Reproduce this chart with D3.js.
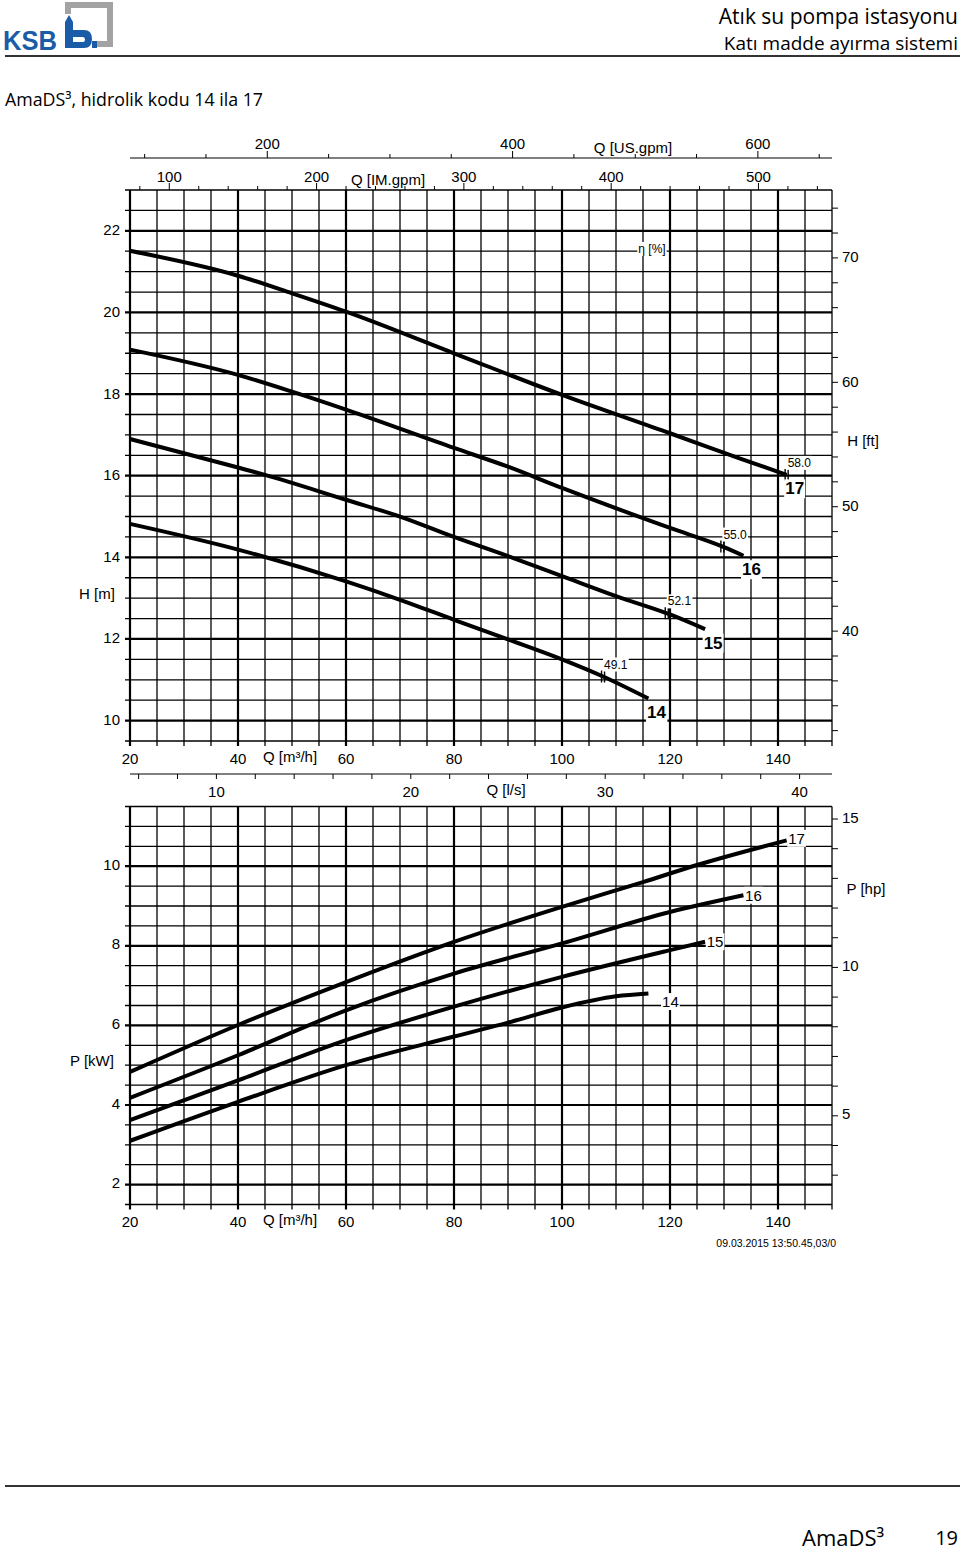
<!DOCTYPE html>
<html>
<head>
<meta charset="utf-8">
<script src="https://cdn.jsdelivr.net/npm/d3@7"></script>
<style>
  body { margin: 0; background: #fff; }
  svg text { font-family: "Liberation Sans", Arial, sans-serif; fill: #000; }
  .hdr { font-family: "Open Sans", "Noto Sans", sans-serif !important; }
</style>
</head>
<body>
<div id="viz-body"></div>
<script>
// ---------- data (Q in m3/h) ----------
const curveNames = ["14", "15", "16", "17"];

// head H [m]
const head14 = [[20, 14.82], [40, 14.19], [60, 13.41], [70, 12.96], [80, 12.47], [90, 11.99], [100, 11.5], [107.6, 11.08], [116, 10.54]];
const head15 = [[20, 16.9], [40, 16.2], [45, 16.02], [60, 15.41], [70, 15.0], [80, 14.5], [90, 14.03], [100, 13.54], [110, 13.05], [120, 12.6], [126.5, 12.24]];
const head16 = [[20, 19.09], [40, 18.47], [50, 18.06], [60, 17.62], [80, 16.68], [90, 16.22], [100, 15.7], [120, 14.72], [130, 14.25], [133.6, 14.04]];
const head17 = [[20, 21.51], [40, 20.9], [50, 20.47], [60, 20.02], [80, 19.0], [100, 17.98], [120, 17.04], [133, 16.42], [141.6, 16.02]];

// power P [kW]
const power14 = [[20, 3.1], [40, 4.08], [60, 5.0], [80, 5.72], [90, 6.07], [100, 6.45], [110, 6.73], [116, 6.8]];
const power15 = [[20, 3.62], [40, 4.62], [60, 5.63], [80, 6.47], [100, 7.22], [120, 7.89], [126.5, 8.1]];
const power16 = [[20, 4.18], [40, 5.25], [60, 6.38], [80, 7.3], [100, 8.06], [120, 8.85], [133.6, 9.27]];
const power17 = [[20, 4.83], [40, 6.01], [60, 7.09], [80, 8.1], [100, 8.98], [115, 9.6], [125, 10.03], [141.6, 10.65]];

// efficiency points on the head curves
const etaQ = [107.6, 119.4, 129.7, 141.6];
const etaText = ["49.1", "52.1", "55.0", "58.0"];

// tick labels
const qLabels = [20, 40, 60, 80, 100, 120, 140];
const hLabels = [10, 12, 14, 16, 18, 20, 22];
const pLabels = [2, 4, 6, 8, 10];
const ftLabels = [40, 50, 60, 70];
const hpLabels = [5, 10, 15];
const usLabels = [200, 400, 600];
const imLabels = [100, 200, 300, 400, 500];
const lsLabels = [10, 20, 30, 40];

// ---------- setup ----------
const width = 960, height = 1551;
const heads = [head14, head15, head16, head17];
const powers = [power14, power15, power16, power17];

const svg = d3.select("#viz-body").append("svg")
    .attr("width", width).attr("height", height)
    .attr("viewBox", [0, 0, width, height]);

// Set the ranges
const x = d3.scaleLinear().domain([20, 150]).range([130, 832]);
const yH = d3.scaleLinear().domain([9.5, 23]).range([741, 190]);
const yP = d3.scaleLinear().domain([1.5, 11.5]).range([1204.5, 806.5]);

// secondary units, same pixels
const M3H_US = 4.40287, M3H_IM = 3.66615, M_FT = 3.28084, KW_HP = 1.34102;
const xUS = d3.scaleLinear().domain([20 * M3H_US, 150 * M3H_US]).range(x.range());
const xIM = d3.scaleLinear().domain([20 * M3H_IM, 150 * M3H_IM]).range(x.range());
const xLS = d3.scaleLinear().domain([20 / 3.6, 150 / 3.6]).range(x.range());
const yFt = d3.scaleLinear().domain([9.5 * M_FT, 23 * M_FT]).range(yH.range());
const yHp = d3.scaleLinear().domain([1.5 * KW_HP, 11.5 * KW_HP]).range(yP.range());

// ---------- header / footer ----------
svg.append("text").attr("x", 3).attr("y", 50)
    .attr("textLength", 54).attr("lengthAdjust", "spacingAndGlyphs")
    .style("font-size", "28px").style("font-weight", "bold").style("fill", "#1a5ca8")
    .text("KSB");
// logo
svg.append("path")
    .attr("d", "M68,14 L68,5 L110,5 L110,44 L97,44")
    .attr("fill", "none").attr("stroke", "#a3a3a3").attr("stroke-width", 6);
svg.append("path")
    .attr("d", "M65,48 L65,22 L69,15 L73,22 L73,30 L84,30 Q92,30 92,39 Q92,48 84,48 Z M73,37 L73,42 L83,42 Q85,42 85,39.5 Q85,37 83,37 Z")
    .attr("fill", "#1a5ca8").attr("fill-rule", "evenodd");
svg.append("rect").attr("x", 92).attr("y", 41).attr("width", 5).attr("height", 7).attr("fill", "#1a5ca8");

svg.append("text").attr("class", "hdr").attr("x", 958).attr("y", 24).attr("text-anchor", "end")
    .style("font-size", "21px").text("Atık su pompa istasyonu");
svg.append("text").attr("class", "hdr").attr("x", 958).attr("y", 50).attr("text-anchor", "end")
    .style("font-size", "19px").text("Katı madde ayırma sistemi");
svg.append("line").attr("x1", 5).attr("x2", 960).attr("y1", 56).attr("y2", 56)
    .attr("stroke", "#333").attr("stroke-width", 2);
svg.append("text").attr("class", "hdr").attr("x", 5).attr("y", 106)
    .style("font-size", "17.8px").text("AmaDS³, hidrolik kodu 14 ila 17");

svg.append("line").attr("x1", 5).attr("x2", 960).attr("y1", 1486).attr("y2", 1486)
    .attr("stroke", "#333").attr("stroke-width", 2);
svg.append("text").attr("class", "hdr").attr("x", 802).attr("y", 1546)
    .style("font-size", "22px").text("AmaDS³");
svg.append("text").attr("class", "hdr").attr("x", 958).attr("y", 1545).attr("text-anchor", "end")
    .style("font-size", "20px").text("19");

// ---------- helpers ----------
function label(g, px, py, txt, opts = {}) {
    const t = g.append("text").attr("x", px).attr("y", py)
        .attr("text-anchor", opts.anchor || "middle")
        .attr("dominant-baseline", "central")
        .style("font-size", (opts.size || 15) + "px")
        .style("font-weight", opts.bold ? "bold" : "normal")
        .text(txt);
    if (opts.bg) {
        const b = t.node().getBBox();
        g.insert("rect", () => t.node())
            .attr("x", b.x - 1).attr("y", b.y).attr("width", b.width + 2).attr("height", b.height)
            .attr("fill", "#fff");
    }
    return t;
}

function drawGrid(yScale, step) {
    const g = svg.append("g");
    const [yb, yt] = yScale.range();
    const [v0, v1] = yScale.domain();
    const qGrid = d3.range(20, 150.01, 5);
    const vGrid = d3.range(v0, v1 + 0.01, 0.5);
    g.selectAll(".h").data(vGrid).join("line")
        .attr("x1", 125).attr("x2", x(150))
        .attr("y1", d => yScale(d)).attr("y2", d => yScale(d))
        .attr("stroke", "#000")
        .attr("stroke-width", d => (d % step === 0) ? 2.2 : 1.3);
    g.selectAll(".v").data(qGrid).join("line")
        .attr("x1", d => x(d)).attr("x2", d => x(d))
        .attr("y1", yt).attr("y2", yb + 5)
        .attr("stroke", "#000")
        .attr("stroke-width", d => (d % 20 === 0) ? 2.2 : 1.3);
    return g;
}

const line = d3.line().curve(d3.curveMonotoneX);

// ---------- H chart ----------
const gH = drawGrid(yH, 2);

// top: US gpm axis
const gTop = svg.append("g");
gTop.append("line").attr("x1", x(20)).attr("x2", x(150)).attr("y1", 158).attr("y2", 158)
    .attr("stroke", "#000").attr("stroke-width", 1.2);
gTop.selectAll(".us").data(d3.range(100, 651, 50)).join("line")
    .attr("x1", d => xUS(d)).attr("x2", d => xUS(d))
    .attr("y1", 158).attr("y2", d => d % 200 === 0 ? 151 : 154)
    .attr("stroke", "#000").attr("stroke-width", 1);
usLabels.forEach(v => label(gTop, xUS(v), 143, v));
label(gTop, 633, 147, "Q [US.gpm]");
// IM gpm axis on top border
gTop.selectAll(".im").data(d3.range(80, 541, 20)).join("line")
    .attr("x1", d => xIM(d)).attr("x2", d => xIM(d))
    .attr("y1", 190).attr("y2", d => d % 100 === 0 ? 183 : 186)
    .attr("stroke", "#000").attr("stroke-width", 1);
imLabels.forEach(v => label(gTop, xIM(v), 176, v));
label(gTop, 388, 179, "Q [IM.gpm]");

// left / right / bottom labels
hLabels.forEach(v => label(gH, 120, yH(v) - 1, v, { anchor: "end" }));
label(gH, 97, 593, "H [m]");
gH.selectAll(".ft").data(d3.range(32, 75, 2)).join("line")
    .attr("x1", x(150)).attr("x2", x(150) + 6)
    .attr("y1", d => yFt(d)).attr("y2", d => yFt(d))
    .attr("stroke", "#000").attr("stroke-width", 1);
ftLabels.forEach(v => label(gH, 842, yFt(v) - 1, v, { anchor: "start" }));
label(gH, 863, 440, "H [ft]");
qLabels.forEach(v => label(gH, x(v), 758, v));
label(gH, 290, 756, "Q [m³/h]");
label(gH, 652, 249, "η [%]", { size: 12, bg: true });

// head curves
heads.forEach(d => {
    gH.append("path").attr("d", line(d.map(p => [x(p[0]), yH(p[1])])))
        .attr("fill", "none").attr("stroke", "#000").attr("stroke-width", 4);
});
// efficiency marks
etaQ.forEach((q, i) => {
    const c = heads[i];
    const interp = d3.scaleLinear().domain(c.map(p => p[0])).range(c.map(p => p[1]));
    const px = x(q), py = yH(interp(q));
    gH.append("line").attr("x1", px - 1.5).attr("x2", px - 1.5).attr("y1", py - 6).attr("y2", py + 6)
        .attr("stroke", "#000").attr("stroke-width", 1.4);
    gH.append("line").attr("x1", px + 1.5).attr("x2", px + 1.5).attr("y1", py - 6).attr("y2", py + 6)
        .attr("stroke", "#000").attr("stroke-width", 1.4);
    label(gH, px + 1, py - 12, etaText[i], { anchor: "start", size: 12, bg: true });
});
// curve names
heads.forEach((c, i) => {
    const e = c[c.length - 1];
    label(gH, x(e[0]) + 8, yH(e[1]) + 14, curveNames[i], { size: 17, bold: true, bg: true });
});

// ---------- P chart ----------
const gP = drawGrid(yP, 2);

// top: l/s axis
gP.append("line").attr("x1", x(20)).attr("x2", x(150)).attr("y1", 774).attr("y2", 774)
    .attr("stroke", "#000").attr("stroke-width", 1.2);
gP.selectAll(".ls").data(d3.range(6, 41, 2)).join("line")
    .attr("x1", d => xLS(d)).attr("x2", d => xLS(d))
    .attr("y1", 774).attr("y2", 779)
    .attr("stroke", "#000").attr("stroke-width", 1);
lsLabels.forEach(v => label(gP, xLS(v), 791, v));
label(gP, 506, 789, "Q [l/s]");

pLabels.forEach(v => label(gP, 120, yP(v) - 2, v, { anchor: "end" }));
label(gP, 92, 1060, "P [kW]");
gP.selectAll(".hp").data(d3.range(3, 15.1, 1)).join("line")
    .attr("x1", x(150)).attr("x2", x(150) + 6)
    .attr("y1", d => yHp(d)).attr("y2", d => yHp(d))
    .attr("stroke", "#000").attr("stroke-width", 1);
hpLabels.forEach(v => label(gP, 842, yHp(v) - 2, v, { anchor: "start" }));
label(gP, 866, 888, "P [hp]");
qLabels.forEach(v => label(gP, x(v), 1221, v));
label(gP, 290, 1219, "Q [m³/h]");

powers.forEach(d => {
    gP.append("path").attr("d", line(d.map(p => [x(p[0]), yP(p[1])])))
        .attr("fill", "none").attr("stroke", "#000").attr("stroke-width", 4);
});
const pNameOffset = [[22, 8], [10, 0], [10, 0], [10, -2]];
powers.forEach((c, i) => {
    const e = c[c.length - 1];
    label(gP, x(e[0]) + pNameOffset[i][0], yP(e[1]) + pNameOffset[i][1], curveNames[i], { bg: true });
});

svg.append("text").attr("x", 836).attr("y", 1247).attr("text-anchor", "end")
    .style("font-size", "10.5px").text("09.03.2015 13:50.45,03/0");
</script>
</body>
</html>
